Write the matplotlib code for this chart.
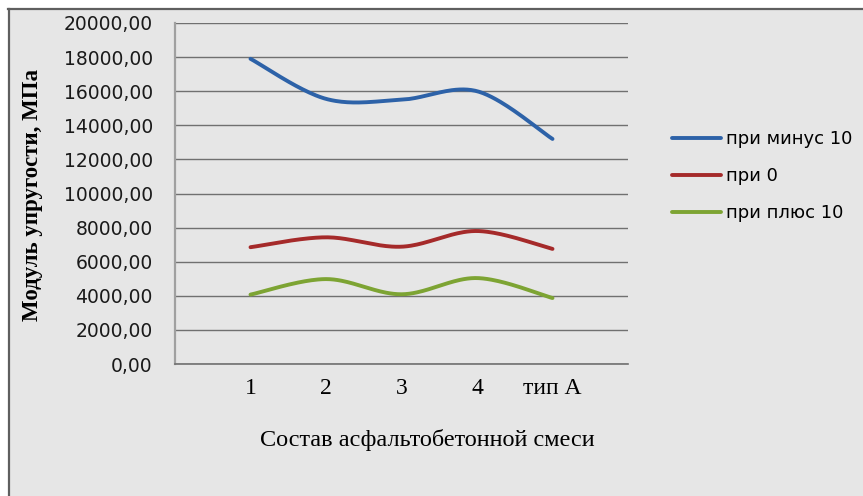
import numpy as np
import matplotlib
matplotlib.use("Agg")
import matplotlib.pyplot as plt
from matplotlib.lines import Line2D

# ---- data ----
categories = ["1", "2", "3", "4", "тип А"]
minus10 = [17900, 15550, 15500, 16000, 13200]
zero = [6850, 7430, 6880, 7800, 6750]
plus10 = [4070, 4980, 4090, 5040, 3870]
series_names = ["при минус 10", "при 0", "при плюс 10"]
y_ticks = [0, 2000, 4000, 6000, 8000, 10000, 12000, 14000, 16000, 18000, 20000]
y_tick_labels = ["0,00", "2000,00", "4000,00", "6000,00", "8000,00", "10000,00",
                 "12000,00", "14000,00", "16000,00", "18000,00", "20000,00"]

colors = ["#2d62a8", "#a52a2a", "#7da433"]
BG = "#e6e6e6"


def smooth(xs, ys, n=40):
    """Excel-like smoothed line (Catmull-Rom as cubic Bezier)."""
    xs = np.asarray(xs, float)
    ys = np.asarray(ys, float)
    P = np.column_stack([xs, ys])
    Pe = np.vstack([P[0], P, P[-1]])
    out = []
    t = np.linspace(0, 1, n)[:, None]
    for i in range(len(P) - 1):
        p0, p1, p2, p3 = Pe[i], Pe[i + 1], Pe[i + 2], Pe[i + 3]
        c1 = p1 + (p2 - p0) / 6.0
        c2 = p2 - (p3 - p1) / 6.0
        seg = ((1 - t) ** 3) * p1 + 3 * ((1 - t) ** 2) * t * c1 + 3 * (1 - t) * t ** 2 * c2 + t ** 3 * p2
        out.append(seg if i == 0 else seg[1:])
    out = np.vstack(out)
    return out[:, 0], out[:, 1]


W, H = 863, 496
fig = plt.figure(figsize=(W / 100, H / 100), dpi=100)
fig.patch.set_facecolor("white")

# gray chart area with a dark border at top/left
bg = plt.Rectangle((8 / W, 0), 1, 1 - 8 / H, transform=fig.transFigure,
                   facecolor=BG, edgecolor="none", zorder=-10)
fig.add_artist(bg)
fig.add_artist(Line2D([8 / W, 1], [1 - 9 / H, 1 - 9 / H], transform=fig.transFigure,
                      color="#5f5f5f", lw=1.6))
fig.add_artist(Line2D([8.5 / W, 8.5 / W], [0, 1 - 9 / H], transform=fig.transFigure,
                      color="#5f5f5f", lw=1.6))

left, right, top, bottom = 175, 628, 23, 364
ax = fig.add_axes([left / W, 1 - bottom / H, (right - left) / W, (bottom - top) / H])
ax.set_facecolor(BG)

x = np.arange(1, len(categories) + 1)
for vals, c, name in zip([minus10, zero, plus10], colors, series_names):
    sx, sy = smooth(x, vals)
    ax.plot(sx, sy, color=c, lw=2.8, solid_capstyle="round", label=name, zorder=3)

ax.set_xlim(0, 6)
ax.set_ylim(0, 20000)
ax.set_yticks(y_ticks)
ax.set_yticklabels(y_tick_labels, fontsize=13.5, family="DejaVu Sans", color="#1a1a1a")
ax.set_xticks(x)
ax.set_xticklabels(categories, fontsize=17, family="Liberation Serif")
ax.tick_params(axis="both", length=0)
ax.tick_params(axis="y", pad=16)
ax.tick_params(axis="x", pad=10)

ax.yaxis.grid(True, color="#707070", lw=1.0)
ax.set_axisbelow(True)
for s in ["top", "right"]:
    ax.spines[s].set_visible(False)
ax.spines["left"].set_color("#a0a0a0")
ax.spines["left"].set_linewidth(1.6)
ax.spines["bottom"].set_color("#707070")
ax.spines["bottom"].set_linewidth(1.2)

fig.text(427 / W, 1 - 440 / H, "Состав асфальтобетонной смеси", ha="center", va="center",
         fontsize=17.5, family="Liberation Serif")
fig.text(33 / W, 1 - 195 / H, "Модуль упругости, МПа", ha="center", va="center",
         rotation=90, fontsize=16.5, family="Liberation Serif", fontweight="bold")

leg = ax.legend(loc="upper left", bbox_to_anchor=(672 / W, 1 - 130 / H),
                bbox_transform=fig.transFigure, frameon=False,
                prop={"family": "DejaVu Sans", "size": 13},
                handlelength=2.7, handletextpad=0.3, labelspacing=1.05,
                borderpad=0, borderaxespad=0)

fig.savefig("out.png", dpi=100, facecolor=fig.get_facecolor())
